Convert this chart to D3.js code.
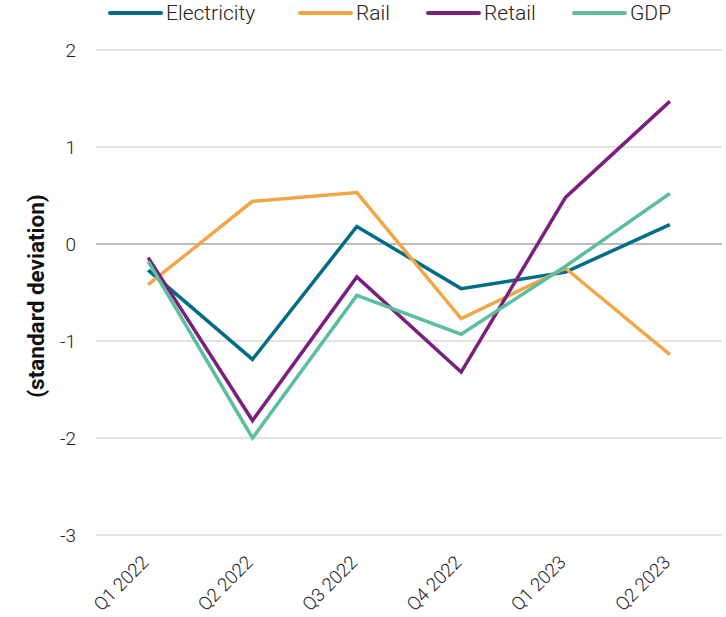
<!DOCTYPE html>
<html>
<head>
<meta charset="utf-8">
<script src="https://cdn.jsdelivr.net/npm/d3@7"></script>
<style>
body{margin:0;background:#fff;}
text{font-family:Roboto,"Open Sans",sans-serif;}
</style>
</head>
<body>
<div id="chart"></div>
<script>
var w=726;
var h=617;
var quarters=["Q1 2022","Q2 2022","Q3 2022","Q4 2022","Q1 2023","Q2 2023"];
var electricity=[-0.27,-1.19,0.18,-0.46,-0.29,0.20];
var rail=[-0.42,0.44,0.53,-0.77,-0.25,-1.14];
var retail=[-0.14,-1.82,-0.34,-1.32,0.48,1.47];
var gdp=[-0.18,-2.00,-0.53,-0.93,-0.23,0.52];
var names=["Electricity","Rail","Retail","GDP"];
var colors=["#006d86","#f2a647","#7a1f7f","#5bbf9f"];
var yTicks=[-3,-2,-1,0,1,2];

var series=[electricity,rail,retail,gdp];

var pLeft=96,pRight=722,pTop=50,pBottom=535;
var svg=d3.select("#chart")
  .append("svg")
  .attr("width",w)
  .attr("height",h);

var x=d3.scalePoint().domain(quarters).range([pLeft,pRight]).padding(0.5);
var y=d3.scaleLinear().domain([-3,2]).range([pBottom,pTop]);

// gridlines
svg.selectAll("line.grid")
   .data(yTicks)
   .enter()
   .append("line")
   .attr("class","grid")
   .attr("x1",pLeft)
   .attr("x2",pRight)
   .attr("y1",function(d){return y(d);})
   .attr("y2",function(d){return y(d);})
   .style("stroke",function(d){return d==0?"#a6a6a6":"#d9d9d9";})
   .style("stroke-width",1.3);

svg.selectAll("text.ytick")
   .data(yTicks)
   .enter()
   .append("text")
   .attr("class","ytick")
   .attr("x",76)
   .attr("y",function(d){return y(d);})
   .attr("dy","0.35em")
   .attr("text-anchor","end")
   .style("font-size","19px")
   .style("font-weight",300)
   .style("fill","#222")
   .text(function(d){return d<0?"-"+Math.abs(d):d;});

svg.selectAll("text.xtick")
   .data(quarters)
   .enter()
   .append("text")
   .attr("class","xtick")
   .attr("transform",function(d){return "translate("+(x(d)-3)+",559) rotate(-45)";})
   .attr("text-anchor","end")
   .attr("dy","0.35em")
   .style("font-size","18.5px")
   .style("font-weight",300)
   .style("fill","#222")
   .text(function(d){return d;});

svg.append("text")
   .attr("transform","translate(36,296) rotate(-90)")
   .attr("text-anchor","middle")
   .attr("dy","0.35em")
   .style("font-size","22.5px")
   .style("font-weight","bold")
   .style("fill","#111")
   .text("(standard deviation)");

var line=d3.line()
  .x(function(d,i){return x(quarters[i]);})
  .y(function(d){return y(d);});

svg.selectAll("path.series")
   .data(series)
   .enter()
   .append("path")
   .attr("class","series")
   .attr("d",function(d){return line(d);})
   .style("fill","none")
   .style("stroke",function(d,i){return colors[i];})
   .style("stroke-width",3.5)
   .style("stroke-linejoin","miter");

// legend
var legX=[108,298,426,572];
var leg=svg.selectAll("g.leg")
   .data(names)
   .enter()
   .append("g")
   .attr("class","leg")
   .attr("transform",function(d,i){return "translate("+legX[i]+",13)";});
leg.append("line")
   .attr("x1",2)
   .attr("x2",53)
   .attr("y1",0)
   .attr("y2",0)
   .style("stroke",function(d,i){return colors[i];})
   .style("stroke-width",4)
   .style("stroke-linecap","round");
leg.append("text")
   .attr("x",58)
   .attr("dy","0.35em")
   .style("font-size","21px")
   .style("font-weight",300)
   .style("fill","#222")
   .text(function(d){return d;});
</script>
</body>
</html>
